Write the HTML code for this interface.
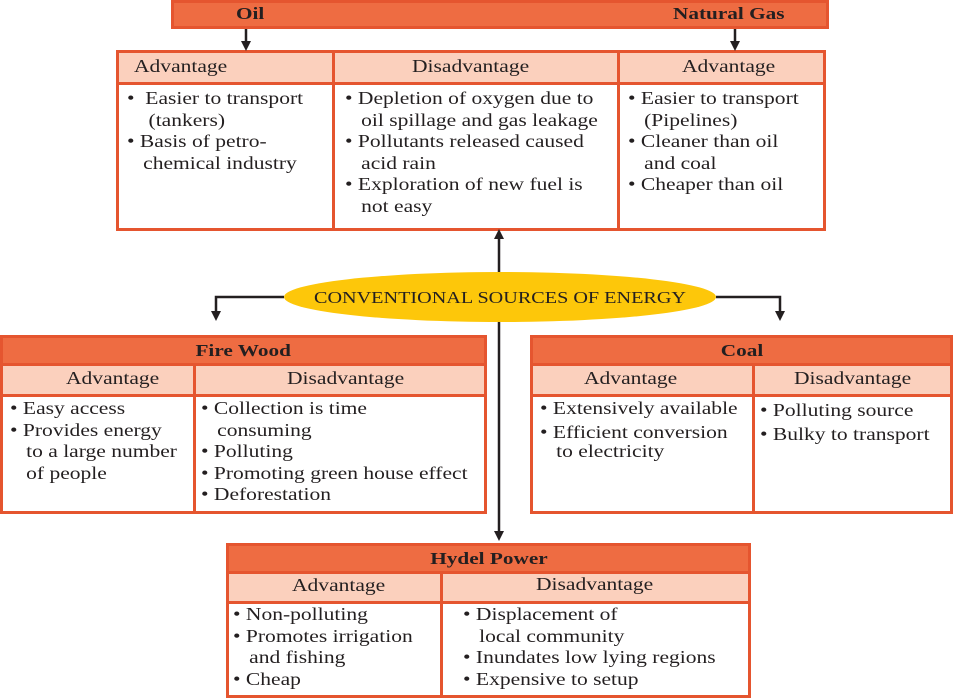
<!DOCTYPE html>
<html><head><meta charset="utf-8"><style>
*{margin:0;padding:0;box-sizing:border-box}
body{width:953px;height:698px;background:#fff;position:relative;overflow:hidden;font-family:"Liberation Serif",serif;color:#231f20}
.a{position:absolute}
.box{position:absolute;border:3px solid #e5552f;background:#fff}
.title{position:absolute;left:0;right:0;top:0;background:#ee6c42;border-bottom:3px solid #e5552f;font-weight:bold;font-size:17px;text-align:center}
.title span,.bt{display:inline-block;transform:scaleX(1.25)}
.sub{position:absolute;background:#fbd0bd;border-bottom:3px solid #e5552f}
.vl{position:absolute;width:3px;background:#e5552f}
.txt{position:absolute;font-size:17.5px;line-height:21.5px;white-space:nowrap;transform:scaleX(1.23);transform-origin:0 0}
</style></head><body>
<!-- top bar -->
<div class="a" style="left:171px;top:0;width:658px;height:29px;background:#ee6c42;border:3px solid #e5552f"></div>
<div class="a bt" style="left:236px;top:4px;font-weight:bold;font-size:17px;transform-origin:0 0">Oil</div>
<div class="a bt" style="left:673px;top:4px;font-weight:bold;font-size:17px;transform-origin:0 0">Natural Gas</div>
<!-- top table -->
<div class="box" style="left:116px;top:50px;width:710px;height:181px">
<div class="sub" style="left:0;right:0;top:0;height:32px"></div>
<div class="vl" style="left:213px;top:0;bottom:0"></div>
<div class="vl" style="left:498px;top:0;bottom:0"></div>
</div>
<div class="txt" style="left:134px;top:56px">Advantage</div>
<div class="txt" style="left:412px;top:56px">Disadvantage</div>
<div class="txt" style="left:682px;top:56px">Advantage</div>
<div class="txt" style="left:127px;top:88px">•&nbsp; Easier to transport<br>&nbsp;&nbsp;&nbsp;&nbsp;(tankers)<br>• Basis of petro-<br>&nbsp;&nbsp;&nbsp;chemical industry</div>
<div class="txt" style="left:345px;top:88px">• Depletion of oxygen due to<br>&nbsp;&nbsp;&nbsp;oil spillage and gas leakage<br>• Pollutants released caused<br>&nbsp;&nbsp;&nbsp;acid rain<br>• Exploration of new fuel is<br>&nbsp;&nbsp;&nbsp;not easy</div>
<div class="txt" style="left:628px;top:88px">• Easier to transport<br>&nbsp;&nbsp;&nbsp;(Pipelines)<br>• Cleaner than oil<br>&nbsp;&nbsp;&nbsp;and coal<br>• Cheaper than oil</div>
<!-- fire wood -->
<div class="box" style="left:0;top:335px;width:487px;height:179px">
<div class="title" style="height:28px;line-height:25px"><span>Fire Wood</span></div>
<div class="sub" style="left:0;right:0;top:28px;height:31px"></div>
<div class="vl" style="left:190px;top:28px;bottom:0"></div>
</div>
<div class="txt" style="left:66px;top:368px">Advantage</div>
<div class="txt" style="left:287px;top:368px">Disadvantage</div>
<div class="txt" style="left:10px;top:398px">• Easy access<br>• Provides energy<br>&nbsp;&nbsp;&nbsp;to a large number<br>&nbsp;&nbsp;&nbsp;of people</div>
<div class="txt" style="left:201px;top:398px">• Collection is time<br>&nbsp;&nbsp;&nbsp;consuming<br>• Polluting<br>• Promoting green house effect<br>• Deforestation</div>
<!-- coal -->
<div class="box" style="left:530px;top:335px;width:423px;height:179px">
<div class="title" style="height:28px;line-height:25px"><span>Coal</span></div>
<div class="sub" style="left:0;right:0;top:28px;height:31px"></div>
<div class="vl" style="left:219px;top:28px;bottom:0"></div>
</div>
<div class="txt" style="left:584px;top:368px">Advantage</div>
<div class="txt" style="left:794px;top:368px">Disadvantage</div>
<div class="txt" style="left:540px;top:398px">• Extensively available</div>
<div class="txt" style="left:540px;top:423px;line-height:19px">• Efficient conversion<br>&nbsp;&nbsp;&nbsp;to electricity</div>
<div class="txt" style="left:760px;top:398px;line-height:24px">• Polluting source<br>• Bulky to transport</div>
<!-- hydel -->
<div class="box" style="left:226px;top:543px;width:525px;height:155px">
<div class="title" style="height:28px;line-height:25px"><span>Hydel Power</span></div>
<div class="sub" style="left:0;right:0;top:28px;height:30px"></div>
<div class="vl" style="left:211px;top:28px;bottom:0"></div>
</div>
<div class="txt" style="left:292px;top:575px">Advantage</div>
<div class="txt" style="left:536px;top:574px">Disadvantage</div>
<div class="txt" style="left:233px;top:604px">• Non-polluting<br>• Promotes irrigation<br>&nbsp;&nbsp;&nbsp;and fishing<br>• Cheap</div>
<div class="txt" style="left:463px;top:604px">• Displacement of<br>&nbsp;&nbsp;&nbsp;local community<br>• Inundates low lying regions<br>• Expensive to setup</div>
<svg class="a" style="left:0;top:0" width="953" height="698">
<g stroke="#231f20" stroke-width="2.5" fill="none">
<line x1="246" y1="29" x2="246" y2="44"/><line x1="735" y1="29" x2="735" y2="44"/>
<line x1="499" y1="236" x2="499" y2="534"/>
<polyline points="284,297 216,297 216,314"/><polyline points="716,297 780,297 780,314"/>
</g>
<g fill="#231f20">
<polygon points="241,41 251,41 246,51"/><polygon points="730,41 740,41 735,51"/>
<polygon points="494,239 504,239 499,229"/><polygon points="494,531 504,531 499,541"/>
<polygon points="211,311 221,311 216,321"/><polygon points="775,311 785,311 780,321"/>
</g>
<ellipse cx="500" cy="297" rx="216" ry="25" fill="#fdc70a"/>
<text x="314" y="303" textLength="372" lengthAdjust="spacingAndGlyphs" font-family="Liberation Serif" font-size="17" fill="#231f20">CONVENTIONAL SOURCES OF ENERGY</text>
</svg>
</body></html>
